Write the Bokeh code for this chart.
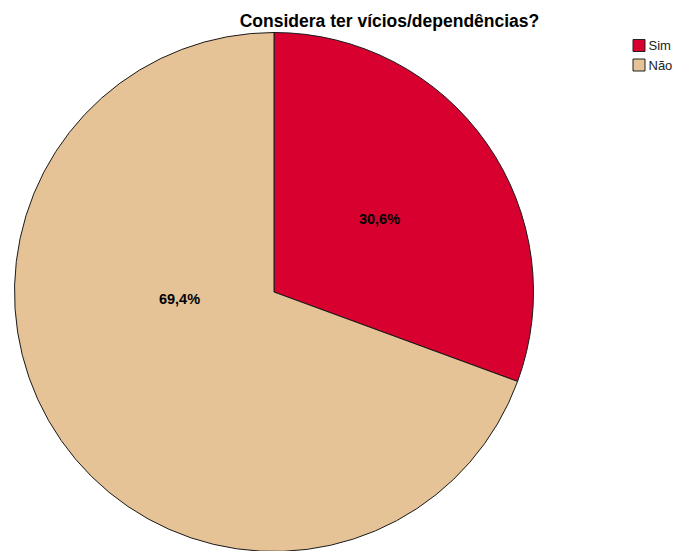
import math
from bokeh.plotting import figure
from bokeh.models import ColumnDataSource
from bokeh.core.properties import value
from bokeh.embed import file_html
from bokeh.resources import INLINE

title = "Considera ter vícios/dependências?"
categories = ["Sim", "Não"]
percentages = [30.6, 69.4]
labels = ["30,6%", "69,4%"]
colors = ["#D7002F", "#E5C397"]

W, H = 676, 551
p = figure(width=W, height=H, x_range=(0, W), y_range=(0, H),
           output_backend="svg", toolbar_location=None, min_border=0)
p.axis.visible = False
p.grid.visible = False
p.outline_line_color = None
p.background_fill_color = "white"

cx, cy, r = 273.5, H - 291.5, 259.5

# cumulative angles, clockwise from 12 o'clock
starts, ends = [], []
acc = 0.0
for pct in percentages:
    a0 = math.pi / 2 - acc / 100 * 2 * math.pi
    acc += pct
    a1 = math.pi / 2 - acc / 100 * 2 * math.pi
    starts.append(a0)
    ends.append(a1)

# label placement (layout only): screen positions of slice labels
label_x = [379, 179]
label_y = [H - 218, H - 298]

src = ColumnDataSource(dict(cat=categories, start=starts, end=ends,
                            color=colors, lx=label_x, ly=label_y, lab=labels))
p.wedge(x=cx, y=cy, radius=r, start_angle="start", end_angle="end",
        direction="clock", fill_color="color", line_color="#1a1a1a",
        line_width=1, source=src)

p.text(x="lx", y="ly", text="lab", source=src, text_align="center",
       text_baseline="middle", text_font=value("Liberation Sans"),
       text_font_style="bold", text_font_size="14.5px", text_color="black")

# title
p.text(x=[389], y=[H - 20], text=[title], text_align="center",
       text_baseline="middle", text_font=value("Liberation Sans"),
       text_font_style="bold", text_font_size="17.5px", text_color="black")

# legend
leg_y = [H - 45, H - 64.5]
p.rect(x=[638.5] * 2, y=leg_y, width=12, height=12, fill_color=colors,
       line_color="#222222", line_width=1)
p.text(x=[648] * 2, y=leg_y, text=categories, text_align="left",
       text_baseline="middle", text_font=value("Liberation Sans"),
       text_font_size="13px", text_color="#222222")

open("out.html", "w").write(file_html(p, INLINE))
